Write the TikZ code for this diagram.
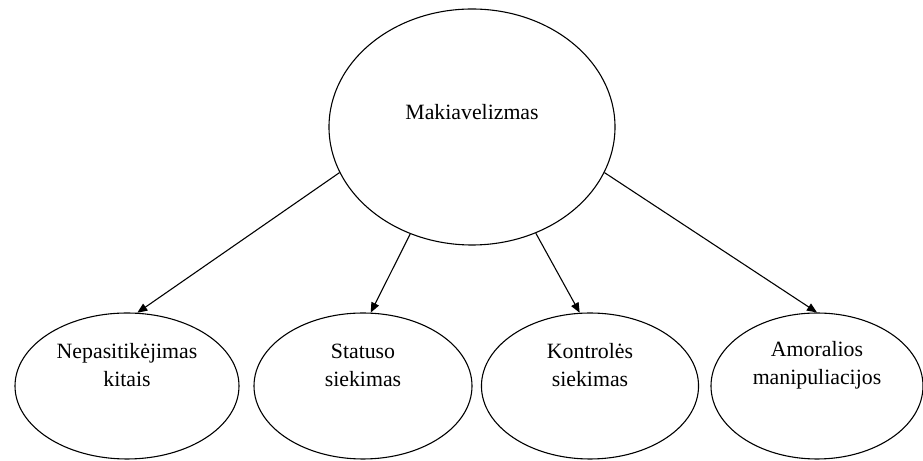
\documentclass[tikz,border=0pt]{standalone}
\usepackage{fontspec}
\setmainfont{Liberation Serif}
\usetikzlibrary{shapes.geometric,arrows.meta}
\begin{document}
\begin{tikzpicture}[x=0.55pt, y=-0.55pt, font=\fontsize{12}{15.4}\selectfont, line join=round, line width=0.6pt, >={Triangle[length=5.5pt,width=4.5pt]},
	rootell/.style={draw, ellipse, inner sep=0pt, minimum width=157.3pt, minimum height=129.8pt},
	leafell/.style={draw, ellipse, inner sep=0pt, minimum height=80.3pt},
	txt/.style={align=center, inner sep=0pt}]
				\useasboundingbox (0,0) rectangle (923,461);
				\node[rootell] (mak) at (472,127) {};
				\node[txt] (makt) at (472,112) {Makiavelizmas};
				\node[leafell, minimum width=123.2pt] (kit) at (127,386) {};
				\node[leafell, minimum width=119.9pt] (sta) at (363,386) {};
				\node[leafell, minimum width=119.4pt] (kon) at (590,386) {};
				\node[leafell, minimum width=116.6pt] (amo) at (817,386) {};
				\node[txt] (kitt) at (127,365) {Nepasitikėjimas\\kitais};
				\node[txt] (stat) at (363,365) {Statuso\\siekimas};
				\node[txt] (kont) at (590,365) {Kontrolės\\siekimas};
				\node[txt] (amot) at (817,365) {Amoralios\\manipuliacijos};
				\foreach \n/\a/\b in {kit/199/82, sta/240/84, kon/301/98, amo/341/90} \draw[->] (mak.\a) -- (\n.\b);
			\end{tikzpicture}
\end{document}
